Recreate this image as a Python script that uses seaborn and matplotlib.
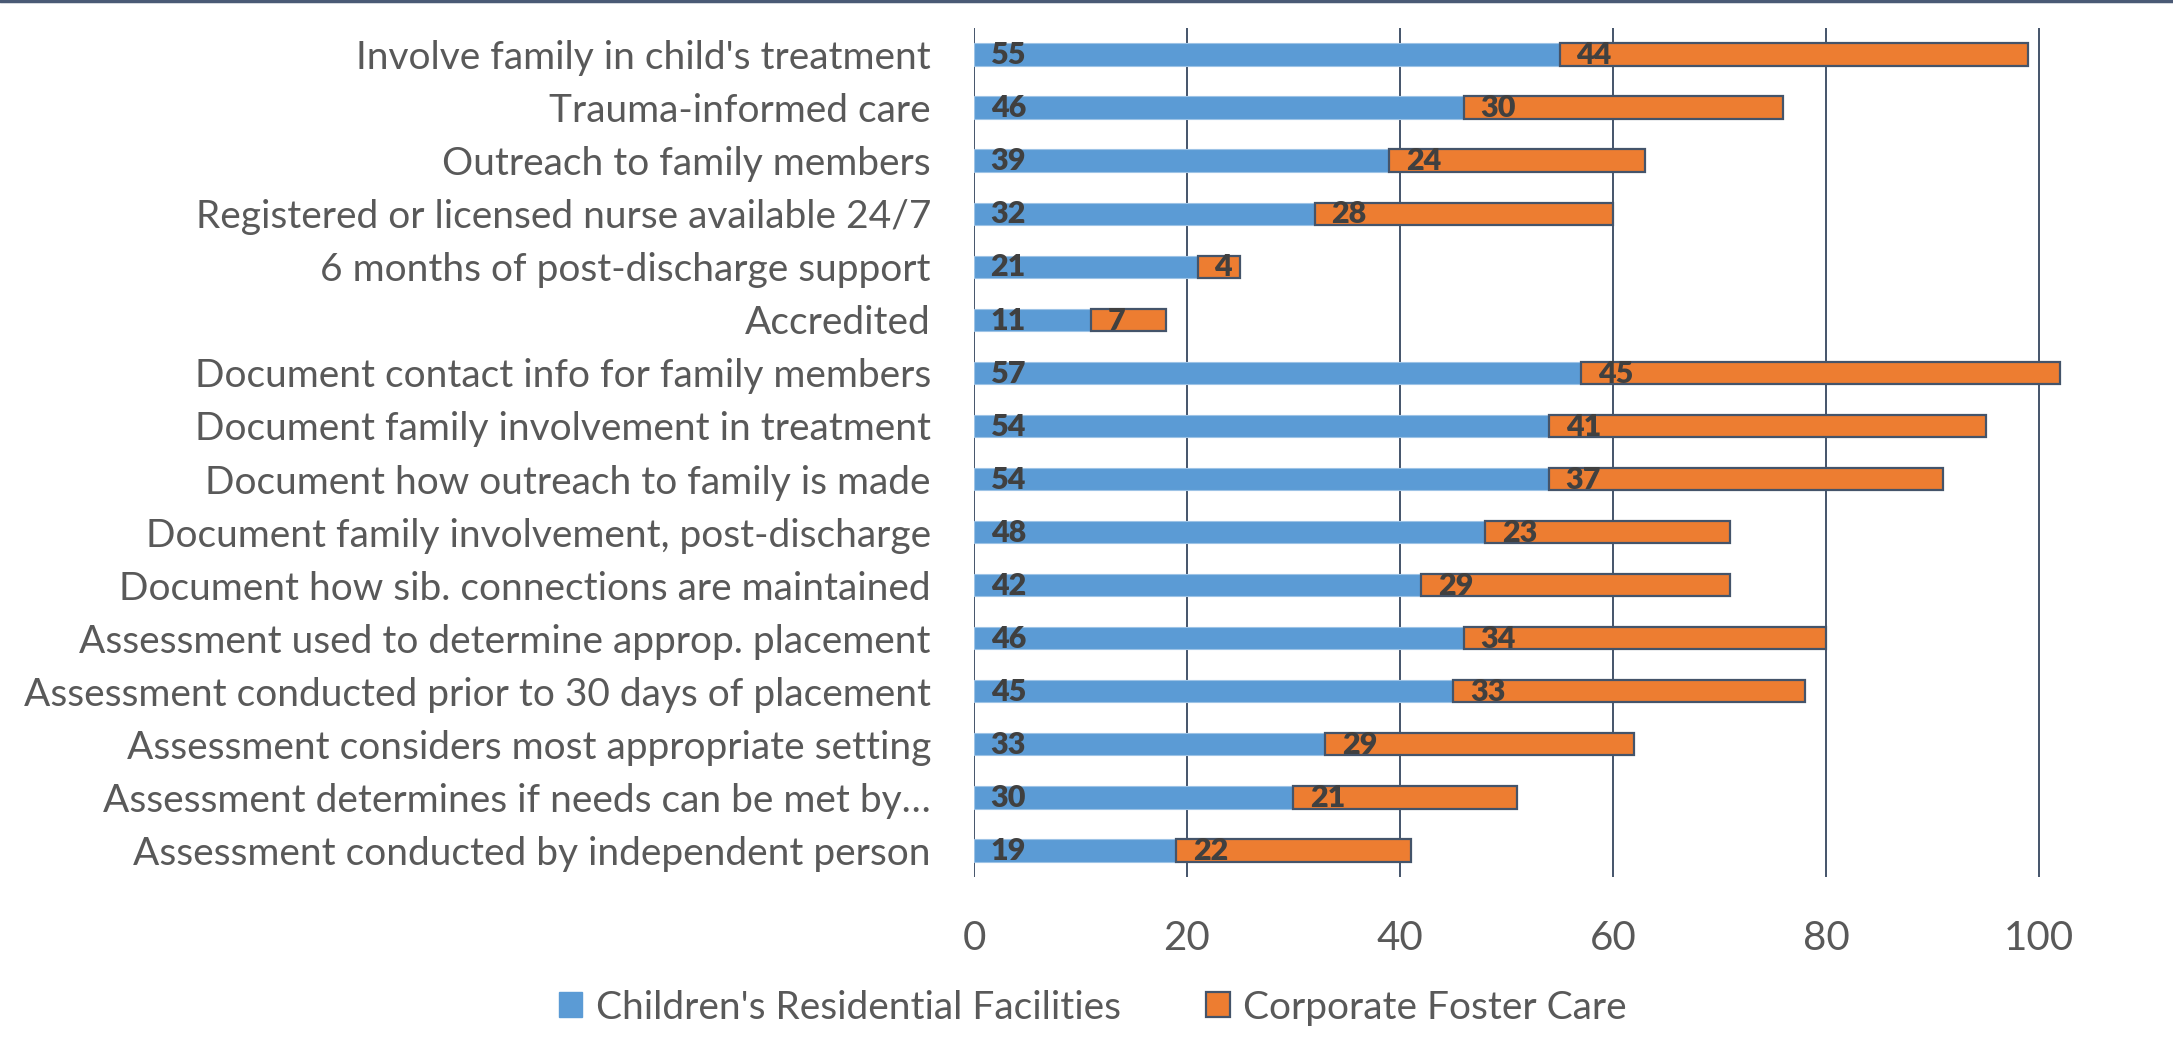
import matplotlib
matplotlib.use("Agg")
import matplotlib.pyplot as plt
import seaborn as sns
import pandas as pd
from matplotlib.lines import Line2D
from matplotlib.patches import Patch

# Chart data
categories = [
    "Involve family in child's treatment",
    "Trauma-informed care",
    "Outreach to family members",
    "Registered or licensed nurse available 24/7",
    "6 months of post-discharge support",
    "Accredited",
    "Document contact info for family members",
    "Document family involvement in treatment",
    "Document how outreach to family is made",
    "Document family involvement, post-discharge",
    "Document how sib. connections are maintained",
    "Assessment used to determine approp. placement",
    "Assessment conducted prior to 30 days of placement",
    "Assessment considers most appropriate setting",
    "Assessment determines if needs can be met by\u2026",
    "Assessment conducted by independent person",
]
residential = [55, 46, 39, 32, 21, 11, 57, 54, 54, 48, 42, 46, 45, 33, 30, 19]
foster_care = [44, 30, 24, 28, 4, 7, 45, 41, 37, 23, 29, 34, 33, 29, 21, 22]
series_names = ["Children's Residential Facilities", "Corporate Foster Care"]
x_ticks = [0, 20, 40, 60, 80, 100]

BLUE = "#5B9BD5"
ORANGE = "#ED7D31"
EDGE = "#44546A"
TEXT = "#595959"
LABEL = "#404040"

sns.set_theme(style="white")
plt.rcParams['font.family'] = ['Lato', 'DejaVu Sans']

df = pd.DataFrame({"Category": categories,
                   "Residential": residential,
                   "Foster": foster_care})

fig = plt.figure(figsize=(21.73, 10.55), dpi=100)
ax = fig.add_axes([0.4482, 0.1687, 0.5048, 0.8048])

sns.barplot(data=df, x="Residential", y="Category", orient="h",
            color=BLUE, width=0.42, edgecolor="#9DC3E6", linewidth=0.8,
            saturation=1, ax=ax)
sns.barplot(data=df, x="Foster", y="Category", orient="h",
            color=ORANGE, width=0.42, edgecolor=EDGE, linewidth=1.6,
            saturation=1, left=df["Residential"].values, ax=ax)

# inside-base data labels
for i, (a, b) in enumerate(zip(residential, foster_care)):
    ax.annotate(str(a), (0, i), xytext=(12, -0.5), textcoords="offset points",
                ha="left", va="center", fontsize=22, fontweight="heavy", color=LABEL)
    ax.annotate(str(b), (a, i), xytext=(12, -0.5), textcoords="offset points",
                ha="left", va="center", fontsize=22, fontweight="heavy", color=LABEL)

ax.set_xlim(0, 103)
ax.set_xticks(x_ticks)
ax.set_ylim(len(categories) - 0.5, -0.5)
ax.set_xlabel("")
ax.set_ylabel("")
ax.grid(axis="x", color=EDGE, linewidth=1.4)
ax.set_axisbelow(True)
for s in ax.spines.values():
    s.set_visible(False)
ax.tick_params(axis="y", labelsize=28, labelcolor=TEXT, length=0, pad=31)
ax.tick_params(axis="x", labelsize=29, labelcolor=TEXT, length=0, pad=31)

handles = [Patch(facecolor=BLUE, edgecolor=BLUE),
           Patch(facecolor=ORANGE, edgecolor=EDGE, linewidth=1.6)]
fig.legend(handles, series_names, loc="center", bbox_to_anchor=(0.503, 0.045),
           ncol=2, frameon=False, fontsize=28, labelcolor=TEXT,
           handlelength=0.6, handleheight=0.6, handletextpad=0.35, columnspacing=2.2)

fig.add_artist(Line2D([0, 1], [0.999, 0.999], transform=fig.transFigure,
                      color="#4A5A75", linewidth=2.5))

fig.savefig("out.png", dpi=100)
